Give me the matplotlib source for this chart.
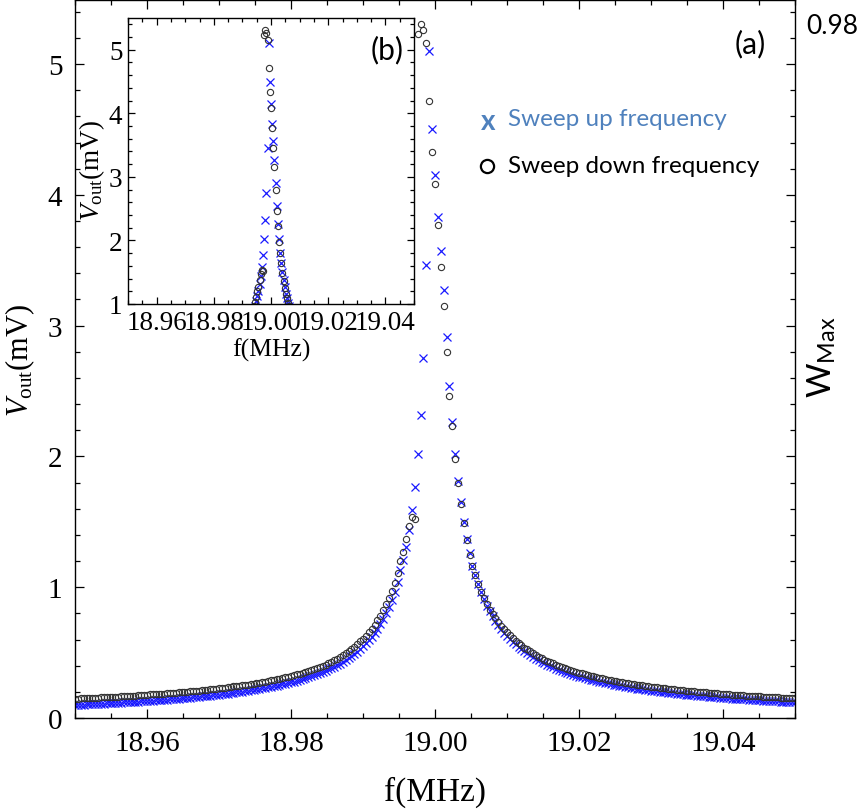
import numpy as np
import matplotlib
matplotlib.use("Agg")
import matplotlib.pyplot as plt
from matplotlib.ticker import MultipleLocator, FormatStrFormatter

plt.rcParams["font.family"] = "Liberation Serif"
plt.rcParams["mathtext.fontset"] = "custom"
plt.rcParams["mathtext.rm"] = "Liberation Serif"
plt.rcParams["mathtext.it"] = "Liberation Serif:italic"
plt.rcParams["mathtext.sf"] = "Lato"

# frequency sweep settings: 18.95 -> 19.05 MHz, 251 points (0.4 kHz step)
freq = np.linspace(18.95, 19.05, 251)

# sweep up (blue x), mV
v_up = [
    0.100, 0.101, 0.102, 0.103, 0.104, 0.105, 0.106, 0.107, 0.108, 0.109,
    0.110, 0.112, 0.113, 0.114, 0.115, 0.116, 0.118, 0.119, 0.120, 0.122,
    0.123, 0.124, 0.126, 0.127, 0.129, 0.130, 0.132, 0.133, 0.135, 0.136,
    0.138, 0.139, 0.141, 0.143, 0.145, 0.146, 0.148, 0.150, 0.152, 0.154,
    0.156, 0.158, 0.160, 0.162, 0.165, 0.167, 0.169, 0.171, 0.174, 0.176,
    0.179, 0.181, 0.184, 0.187, 0.190, 0.193, 0.195, 0.199, 0.202, 0.205,
    0.208, 0.212, 0.215, 0.219, 0.223, 0.226, 0.230, 0.235, 0.239, 0.243,
    0.248, 0.253, 0.257, 0.263, 0.268, 0.273, 0.279, 0.285, 0.291, 0.298,
    0.304, 0.311, 0.319, 0.326, 0.334, 0.343, 0.352, 0.361, 0.371, 0.381,
    0.392, 0.404, 0.416, 0.429, 0.443, 0.457, 0.473, 0.490, 0.508, 0.527,
    0.548, 0.570, 0.595, 0.621, 0.650, 0.682, 0.717, 0.756, 0.800, 0.848,
    0.903, 0.965,
    1.04, 1.13, 1.21, 1.31, 1.44, 1.59, 1.77, 2.02, 2.32, 2.75,
    3.46, 5.10, 4.50, 4.15, 3.83, 3.57, 3.27, 2.91, 2.54, 2.26,
    2.02, 1.81, 1.65, 1.50, 1.37, 1.26, 1.16, 1.09,
    1.022, 0.962, 0.908, 0.860, 0.817, 0.778, 0.743, 0.710, 0.680, 0.653,
    0.628, 0.604, 0.583, 0.562, 0.544, 0.526, 0.509, 0.494, 0.479, 0.465,
    0.452, 0.440, 0.428, 0.417, 0.406, 0.396, 0.387, 0.378, 0.369, 0.361,
    0.353, 0.345, 0.338, 0.331, 0.324, 0.317, 0.311, 0.305, 0.299, 0.294,
    0.288, 0.283, 0.278, 0.273, 0.268, 0.264, 0.260, 0.255, 0.251, 0.247,
    0.243, 0.239, 0.236, 0.232, 0.229, 0.225, 0.222, 0.219, 0.216, 0.213,
    0.210, 0.207, 0.204, 0.201, 0.199, 0.196, 0.193, 0.191, 0.188, 0.186,
    0.184, 0.181, 0.179, 0.177, 0.175, 0.173, 0.171, 0.169, 0.167, 0.165,
    0.163, 0.161, 0.159, 0.158, 0.156, 0.154, 0.153, 0.151, 0.149, 0.148,
    0.146, 0.145, 0.143, 0.142, 0.140, 0.139, 0.137, 0.136, 0.135, 0.133,
    0.132, 0.131, 0.129, 0.128, 0.127, 0.126, 0.124, 0.123, 0.122, 0.121,
    0.120,
]

# sweep down (black o), mV
v_down = [
    0.148, 0.149, 0.150, 0.151, 0.152, 0.153, 0.154, 0.155, 0.156, 0.157,
    0.158, 0.160, 0.161, 0.162, 0.163, 0.164, 0.166, 0.167, 0.168, 0.170,
    0.171, 0.172, 0.174, 0.175, 0.177, 0.178, 0.180, 0.181, 0.183, 0.184,
    0.186, 0.187, 0.189, 0.191, 0.193, 0.194, 0.196, 0.198, 0.200, 0.202,
    0.204, 0.206, 0.208, 0.210, 0.213, 0.215, 0.217, 0.219, 0.222, 0.224,
    0.227, 0.229, 0.232, 0.235, 0.238, 0.241, 0.243, 0.247, 0.250, 0.253,
    0.256, 0.260, 0.263, 0.267, 0.271, 0.274, 0.278, 0.283, 0.287, 0.291,
    0.296, 0.301, 0.305, 0.311, 0.316, 0.321, 0.327, 0.333, 0.339, 0.346,
    0.352, 0.359, 0.367, 0.374, 0.382, 0.391, 0.400, 0.409, 0.419, 0.429,
    0.440, 0.453, 0.466, 0.480, 0.495, 0.511, 0.528, 0.546, 0.565, 0.585,
    0.607, 0.630, 0.656, 0.683, 0.713, 0.747, 0.783, 0.823, 0.868, 0.917,
    0.973, 1.036,
    1.11, 1.20, 1.27, 1.37, 1.47, 1.54, 1.52, 5.23, 5.31, 5.26,
    5.16, 4.72, 4.33, 4.08, 3.77, 3.45, 3.15, 2.80, 2.46, 2.23,
    1.98, 1.80, 1.64, 1.49, 1.36, 1.25, 1.16, 1.09,
    1.022, 0.965, 0.914, 0.869, 0.829, 0.793, 0.761, 0.731, 0.704, 0.680,
    0.658, 0.634, 0.613, 0.592, 0.574, 0.556, 0.539, 0.524, 0.509, 0.495,
    0.482, 0.470, 0.458, 0.447, 0.436, 0.426, 0.417, 0.408, 0.399, 0.391,
    0.383, 0.375, 0.368, 0.361, 0.354, 0.347, 0.341, 0.335, 0.329, 0.324,
    0.318, 0.313, 0.308, 0.303, 0.298, 0.294, 0.290, 0.285, 0.281, 0.277,
    0.273, 0.269, 0.266, 0.262, 0.259, 0.255, 0.252, 0.249, 0.246, 0.243,
    0.240, 0.237, 0.234, 0.231, 0.229, 0.226, 0.223, 0.221, 0.218, 0.216,
    0.214, 0.211, 0.209, 0.207, 0.205, 0.203, 0.201, 0.199, 0.197, 0.195,
    0.193, 0.191, 0.189, 0.188, 0.186, 0.184, 0.183, 0.181, 0.179, 0.178,
    0.176, 0.175, 0.173, 0.172, 0.170, 0.169, 0.167, 0.166, 0.165, 0.163,
    0.162, 0.161, 0.159, 0.158, 0.157, 0.156, 0.154, 0.153, 0.152, 0.151,
    0.150,
]

x_ticks = [18.96, 18.98, 19.00, 19.02, 19.04]
BLUE = "#1a1aff"
LEG_BLUE = "#4f81bd"
W, H = 862, 812


def draw(ax, labelsize, pad, major, minor):
    ax.plot(freq, v_up, ls="none", marker="x", ms=6, mew=0.9, color=BLUE)
    ax.plot(freq, v_down, ls="none", marker="o", ms=4.5, mew=0.8,
            mfc="none", mec="#333333")
    ax.set_xlim(18.95, 19.05)
    ax.set_xticks(x_ticks)
    ax.xaxis.set_major_formatter(FormatStrFormatter("%.2f"))
    ax.xaxis.set_minor_locator(MultipleLocator(0.005))
    ax.yaxis.set_major_locator(MultipleLocator(1))
    ax.yaxis.set_minor_locator(MultipleLocator(0.2))
    ax.yaxis.set_major_formatter(FormatStrFormatter("%d"))
    ax.tick_params(which="both", direction="in", top=True, right=True,
                   width=0.9, labelsize=labelsize, pad=pad)
    ax.tick_params(which="major", length=major)
    ax.tick_params(which="minor", length=minor)
    for s in ax.spines.values():
        s.set_linewidth(1.0)


fig = plt.figure(figsize=(W / 100, H / 100), dpi=100)

# main panel (a)
ax = fig.add_axes([75 / W, 1 - 719 / H, 720 / W, 718 / H])
draw(ax, 21, 9, 6.5, 3.8)
ax.set_ylim(0, 5.49)
ax.set_xlabel("f(MHz)", fontsize=24, labelpad=14)
ax.set_ylabel(r"$V_{\mathrm{out}}$(mV)", fontsize=22, labelpad=8)

# inset (b)
axi = fig.add_axes([128 / W, 1 - 305 / H, 286 / W, 286 / H])
axi.set_facecolor("white")
draw(axi, 19.5, 4, 5, 3)
axi.set_ylim(1, 5.5)
axi.set_xlabel("f(MHz)", fontsize=18.5, labelpad=2)
axi.set_ylabel(r"$V_{\mathrm{out}}$(mV)", fontsize=19.5)
axi.yaxis.set_label_coords(-0.075, 0.47)

# panel tags, legend, right-side labels
fig.text(750 / W, 1 - 44 / H, "(a)", family="Lato", fontsize=21.5, ha="center", va="center")
fig.text(387 / W, 1 - 50 / H, "(b)", family="Lato", fontsize=21.5, ha="center", va="center")

fig.text(488 / W, 1 - 122 / H, "x", family="Lato", fontweight="bold", fontsize=20,
         color=LEG_BLUE, ha="center", va="center")
fig.text(508 / W, 1 - 120 / H, "Sweep up frequency", family="Lato", fontsize=17.5,
         color=LEG_BLUE, ha="left", va="center")
ax.plot([487 / W], [1 - 167 / H], transform=fig.transFigure, marker="o", ms=9.5,
        mfc="none", mec="black", mew=1.6, clip_on=False)
fig.text(508 / W, 1 - 167 / H, "Sweep down frequency", family="Lato", fontsize=17.5,
         color="black", ha="left", va="center")

fig.text(832 / W, 1 - 27 / H, "0.98", family="Lato", fontsize=19, ha="center", va="center")
fig.text(822 / W, 1 - 357 / H, r"$\mathsf{W}_{\mathsf{Max}}$", fontsize=24,
         rotation=90, ha="center", va="center")

fig.savefig("out.png", dpi=100)
